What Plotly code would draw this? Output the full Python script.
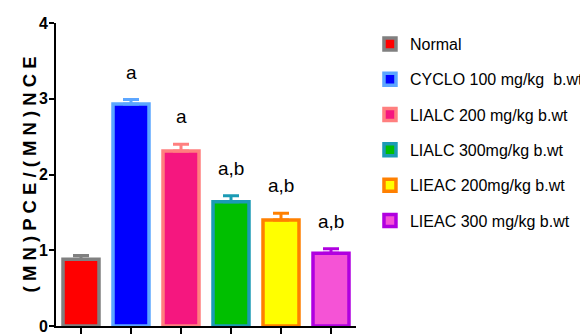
import plotly.graph_objects as go

groups = ["Normal", "CYCLO 100 mg/kg  b.wt", "LIALC 200 mg/kg b.wt", "LIALC 300mg/kg b.wt",
          "LIEAC 200mg/kg b.wt", "LIEAC 300 mg/kg b.wt"]
values = [0.88, 2.93, 2.31, 1.64, 1.40, 0.96]
errors = [0.05, 0.06, 0.09, 0.08, 0.09, 0.06]
sig_labels = ["", "a", "a", "a,b", "a,b", "a,b"]
fill_colors = ["#FF0000", "#0000FF", "#F5177F", "#00BF00", "#FFFF00", "#F553D6"]
line_colors = ["#808080", "#5CA6FF", "#FF7F7F", "#1B9BB5", "#FF8000", "#B000E0"]
y_ticks = [0, 1, 2, 3, 4]
y_title = "( M N ) P C E / ( M N ) N C E"

FONT = "Liberation Sans, Arial, sans-serif"

fig = go.Figure()
for i, g in enumerate(groups):
    fig.add_trace(go.Bar(
        x=[i], y=[values[i]], name=g, width=0.72,
        marker=dict(color=fill_colors[i], line=dict(color=line_colors[i], width=3.5)),
        error_y=dict(type="data", array=[errors[i]], arrayminus=[0], symmetric=False,
                     color=line_colors[i], thickness=3, width=8),
        legendgroup=g,
    ))
    if sig_labels[i]:
        fig.add_annotation(x=i, y=values[i] + errors[i], text=sig_labels[i], showarrow=False,
                           yanchor="bottom", yshift=15, font=dict(size=19, color="black", family=FONT))

fig.add_annotation(xref="paper", yref="paper", x=-0.087, y=0.5, xanchor="center", yanchor="middle",
                   text="<b>" + y_title + "</b>", textangle=-90, showarrow=False,
                   font=dict(size=18.5, family=FONT, color="black"))

fig.update_layout(
    width=588, height=334,
    margin=dict(l=48, r=240, t=15, b=16),
    plot_bgcolor="white", paper_bgcolor="white",
    barmode="overlay",
    showlegend=True,
    legend=dict(xref="container", yref="container", x=0.6156, y=0.943,
                xanchor="left", yanchor="top", maxheight=400,
                font=dict(size=16, color="black", family=FONT),
                tracegroupgap=11.5, bgcolor="rgba(0,0,0,0)"),
    font=dict(family=FONT, color="black"),
)
fig.update_xaxes(range=[-0.5, 5.5], showline=True, linecolor="black", linewidth=2,
                 ticks="outside", ticklen=8, tickwidth=2, tickcolor="black",
                 tickvals=list(range(len(groups))), showticklabels=False,
                 showgrid=False, zeroline=False, automargin=False)
fig.update_yaxes(range=[0, 4], showline=True, linecolor="black", linewidth=2,
                 ticks="outside", ticklen=5, tickwidth=2, tickcolor="black",
                 tickvals=y_ticks, ticklabelstandoff=-2,
                 tickfont=dict(size=16, family=FONT, color="black", weight="bold"),
                 showgrid=False, zeroline=False, automargin=False)
fig.write_html("out.html")
